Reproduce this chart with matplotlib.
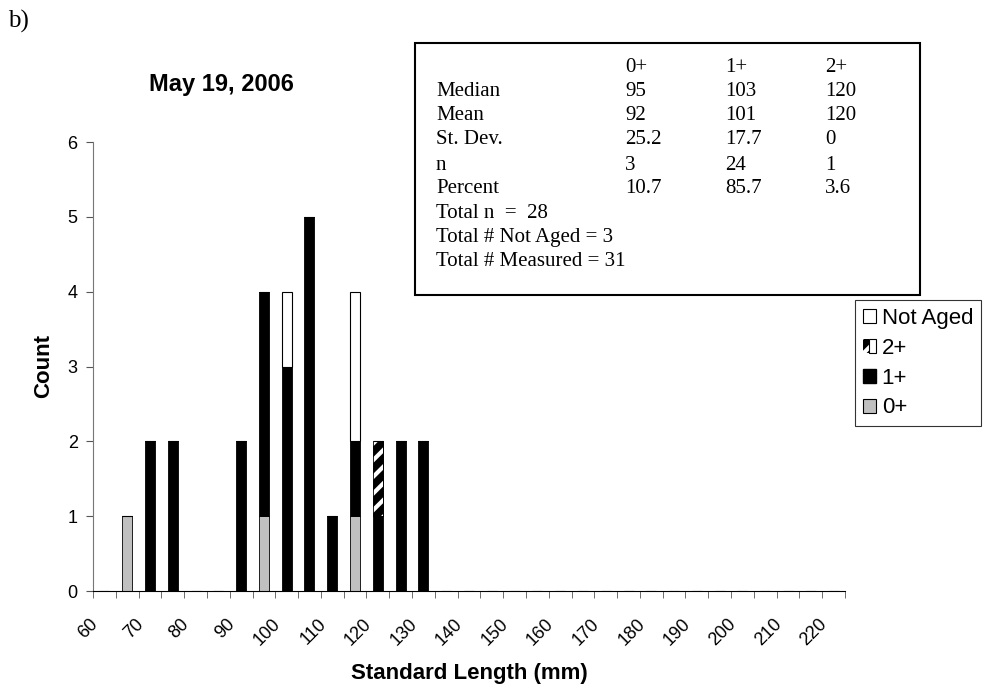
import numpy as np
import matplotlib.pyplot as plt
from matplotlib.patches import Patch, Rectangle
from matplotlib.transforms import ScaledTranslation
from matplotlib.legend_handler import HandlerTuple

# length classes (mm), 5 mm bins
lengths = list(range(60, 225, 5))
tick_labels = [str(v) if v % 10 == 0 else '' for v in lengths]

# counts per age class, keyed by length class
age0 = {65: 1, 95: 1, 115: 1}
age1 = {70: 2, 75: 2, 90: 2, 95: 3, 100: 3, 105: 5, 110: 1, 115: 1, 120: 1, 125: 2, 130: 2}
age2 = {120: 1}
not_aged = {100: 1, 115: 2}

stats_cols = ['0+', '1+', '2+']
stats_rows = ['Median', 'Mean', 'St. Dev.', 'n', 'Percent']
stats_vals = [['95', '103', '120'],
              ['92', '101', '120'],
              ['25.2', '17.7', '0'],
              ['3', '24', '1'],
              ['10.7', '85.7', '3.6']]
totals = ['Total n  =  28', 'Total # Not Aged = 3', 'Total # Measured = 31']

plt.rcParams['font.family'] = 'Liberation Sans'
plt.rcParams['hatch.linewidth'] = 3.0

W, H = 985, 689
fig = plt.figure(figsize=(W / 100, H / 100), dpi=100)
ax = fig.add_axes([93 / W, 1 - 591 / H, (845 - 93) / W, (591 - 142) / H])

x = np.arange(len(lengths))
def col(d):
    return np.array([d.get(v, 0) for v in lengths], dtype=float)

a0, a1, a2, na = col(age0), col(age1), col(age2), col(not_aged)
bw = 0.44
ax.bar(x, a0, bw, color='#c0c0c0', edgecolor='black', linewidth=0.6)
ax.bar(x, a1, bw, bottom=a0, color='black', edgecolor='black', linewidth=0.6)
ax.bar(x, a2, bw, bottom=a0 + a1, color='black', edgecolor='black', linewidth=0.6)
ax.bar(x, a2, bw, bottom=a0 + a1, color='none', edgecolor='white', hatch='//', linewidth=0)
ax.bar(x, a2, bw, bottom=a0 + a1, color='none', edgecolor='black', linewidth=0.6)
ax.bar(x, na, bw, bottom=a0 + a1 + a2, color='white', edgecolor='black', linewidth=0.8)

ax.set_xlim(-0.5, len(lengths) - 0.5)
ax.set_ylim(0, 6)
ax.set_yticks(range(7))
ax.tick_params(axis='y', labelsize=13, length=5, color='#555555', pad=6)

ax.set_xticks(x)
ax.set_xticklabels(tick_labels, rotation=45, ha='right', va='center',
                   rotation_mode='anchor', fontsize=13)
ax.tick_params(axis='x', which='major', length=0, pad=22)
shift = ScaledTranslation(-9 / 100, 0, fig.dpi_scale_trans)
for lab in ax.get_xticklabels():
    lab.set_transform(lab.get_transform() + shift)
ax.set_xticks(np.arange(-0.5, len(lengths), 1), minor=True)
ax.tick_params(axis='x', which='minor', length=5, color='#555555')

for s in ['top', 'right']:
    ax.spines[s].set_visible(False)
ax.spines['left'].set_color('#777777')
ax.spines['bottom'].set_color('black')

fig.text(469 / W, 1 - 673 / H, 'Standard Length (mm)', ha='center', va='center',
         fontsize=16, fontweight='bold')
fig.text(44 / W, 1 - 366 / H, 'Count', ha='center', va='center', rotation=90,
         fontsize=16, fontweight='bold')
fig.text(221 / W, 1 - 85 / H, 'May 19, 2006', ha='center', va='center',
         fontsize=17, fontweight='bold')
fig.text(8 / W, 1 - 21 / H, 'b)', ha='left', va='center', fontsize=18,
         family='Liberation Serif')

# stats box
fig.add_artist(Rectangle((415 / W, 1 - 295 / H), (920 - 415) / W, (295 - 43) / H,
                         transform=fig.transFigure, fill=False, edgecolor='black', linewidth=1.5))
serif = dict(family='Liberation Serif', fontsize=15, va='center', ha='left')
col_x = [625, 725, 825]
for j, c in enumerate(stats_cols):
    fig.text(col_x[j] / W, 1 - 67 / H, c, **serif)
row_y = [91, 115, 140, 165, 189]
for i, r in enumerate(stats_rows):
    fig.text(436 / W, 1 - row_y[i] / H, r, **serif)
    for j in range(3):
        fig.text(col_x[j] / W, 1 - row_y[i] / H, stats_vals[i][j], **serif)
for k, t in enumerate(totals):
    fig.text(436 / W, 1 - (213 + 24 * k) / H, t, **serif)

h2 = (Patch(facecolor='black', edgecolor='white', hatch='//', linewidth=0),
      Patch(facecolor='none', edgecolor='black', linewidth=0.8))
handles = [Patch(facecolor='white', edgecolor='black', linewidth=0.8),
           h2,
           Patch(facecolor='black', edgecolor='black'),
           Patch(facecolor='#c0c0c0', edgecolor='black', linewidth=0.8)]
labels = ['Not Aged', '2+', '1+', '0+']
leg = fig.legend(handles, labels, loc='upper left', bbox_to_anchor=(855 / W, 1 - 300 / H),
                 borderaxespad=0, fontsize=16, frameon=True, fancybox=False,
                 edgecolor='black', handlelength=0.6, handleheight=0.6,
                 handletextpad=0.25, borderpad=0.35, labelspacing=0.4,
                 handler_map={tuple: HandlerTuple(ndivide=None, pad=0)})
leg.get_frame().set_linewidth(0.8)

fig.savefig('out.png', dpi=100)
